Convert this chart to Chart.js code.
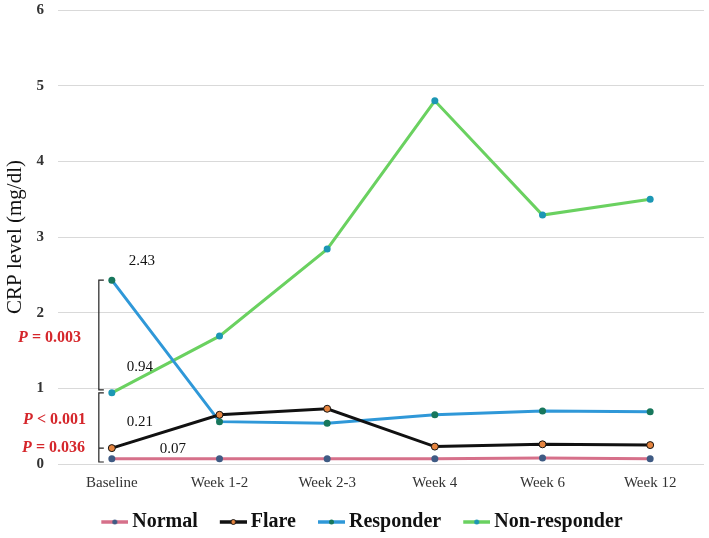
<!DOCTYPE html>
<html>
<head>
<meta charset="utf-8">
<script src="https://cdn.jsdelivr.net/npm/chart.js@4.4.0/dist/chart.umd.min.js"></script>
<style>
  html, body { margin: 0; padding: 0; background: #fff; }
  #wrap { width: 709px; height: 538px; }
</style>
</head>
<body>
<div id="wrap"><canvas id="myChart"></canvas></div>
<script>
const labels = ['Baseline', 'Week 1-2', 'Week 2-3', 'Week 4', 'Week 6', 'Week 12'];
const normal = [0.07, 0.07, 0.07, 0.07, 0.08, 0.07];
const flare = [0.21, 0.65, 0.73, 0.23, 0.26, 0.25];
const responder = [2.43, 0.56, 0.54, 0.65, 0.70, 0.69];
const nonResponder = [0.94, 1.69, 2.84, 4.80, 3.29, 3.50];
const yTicks = [0, 1, 2, 3, 4, 5, 6];
const pLabels = ['P = 0.003', 'P < 0.001', 'P = 0.036'];

const serif = '"Liberation Serif", "Times New Roman", serif';
const red = '#d5262b';

// line+dot image for the legend, transparent on the left so the text sits close to it
function legendIcon(lineColor, dotColor, dotBorder) {
    const c = document.createElement('canvas');
    c.width = 49; c.height = 10;
    const ctx = c.getContext('2d');
    ctx.strokeStyle = lineColor;
    ctx.lineWidth = 3.5;
    ctx.beginPath(); ctx.moveTo(22, 5); ctx.lineTo(49, 5); ctx.stroke();
    ctx.fillStyle = dotColor;
    ctx.beginPath(); ctx.arc(35.5, 5, 2.5, 0, Math.PI * 2); ctx.fill();
    if (dotBorder) { ctx.strokeStyle = dotBorder; ctx.lineWidth = 1; ctx.stroke(); }
    return c;
}

function series(label, data, line, dot, dotBorder) {
    return {
        label: label,
        data: data,
        borderColor: line,
        backgroundColor: dot,
        borderWidth: 3,
        pointRadius: 3.5,
        pointStyle: 'circle',
        pointBackgroundColor: dot,
        pointBorderColor: dotBorder || dot,
        pointBorderWidth: dotBorder ? 1 : 0,
        icon: legendIcon(line, dot, dotBorder),
        tension: 0
    };
}

const annotations = {
    id: 'annotations',
    afterLayout(chart) {
        // nudge the legend row down a little
        if (chart.legend) { chart.legend.top += 4; chart.legend.bottom += 4; }
    },
    afterDatasetsDraw(chart) {
        const ctx = chart.ctx;
        const x = chart.scales.x, y = chart.scales.y;
        const x0 = x.getPixelForValue(0);
        const bx = x0 - 13;
        ctx.save();
        // brackets
        ctx.strokeStyle = '#222';
        ctx.lineWidth = 1.2;
        const top1 = y.getPixelForValue(responder[0]);
        const bot1 = y.getPixelForValue(nonResponder[0]) - 3;
        ctx.beginPath();
        ctx.moveTo(bx + 5, top1); ctx.lineTo(bx, top1); ctx.lineTo(bx, bot1); ctx.lineTo(bx + 5, bot1);
        ctx.stroke();
        const top2 = y.getPixelForValue(nonResponder[0]);
        const mid2 = y.getPixelForValue(flare[0]);
        const bot2 = y.getPixelForValue(0) - 2;
        ctx.beginPath();
        ctx.moveTo(bx + 5, top2); ctx.lineTo(bx, top2); ctx.lineTo(bx, bot2); ctx.lineTo(bx + 5, bot2);
        ctx.moveTo(bx, mid2); ctx.lineTo(bx + 5, mid2);
        ctx.stroke();

        // value labels at baseline
        ctx.fillStyle = '#111';
        ctx.font = '15px ' + serif;
        ctx.textAlign = 'center';
        ctx.textBaseline = 'middle';
        ctx.fillText(responder[0].toFixed(2), x0 + 30, top1 - 19);
        ctx.fillText(nonResponder[0].toFixed(2), x0 + 28, y.getPixelForValue(nonResponder[0]) - 26);
        ctx.fillText(flare[0].toFixed(2), x0 + 28, mid2 - 26);
        ctx.fillText(normal[0].toFixed(2), x0 + 61, y.getPixelForValue(normal[0]) - 10);

        // P values, P in italic
        const pRows = [(top1 + bot1) / 2 + 3, y.getPixelForValue(0.58), mid2];
        const rights = [81, 86, 85];
        pLabels.forEach((t, i) => {
            const rest = t.slice(1);
            ctx.font = 'bold 16px ' + serif;
            const wRest = ctx.measureText(rest).width;
            ctx.fillStyle = red;
            ctx.textAlign = 'left';
            ctx.fillText(rest, rights[i] - wRest, pRows[i]);
            ctx.font = 'italic bold 16px ' + serif;
            const wP = ctx.measureText('P').width;
            ctx.fillText('P', rights[i] - wRest - wP, pRows[i]);
        });
        ctx.restore();
    }
};

const config = {
    type: 'line',
    data: {
        labels: labels,
        datasets: [
            series('Normal', normal, '#d6708a', '#3f5b84'),
            series('Flare', flare, '#111111', '#e5843f', '#111111'),
            series('Responder', responder, '#2f98d8', '#17775c'),
            series('Non-responder', nonResponder, '#6ad160', '#1c97b4')
        ]
    },
    options: {
        responsive: true,
        maintainAspectRatio: false,
        animation: false,
        layout: { padding: { top: 10, right: 1, bottom: 0, left: 0 } },
        plugins: {
            legend: {
                position: 'bottom',
                labels: {
                    usePointStyle: true,
                    pointStyleWidth: 37,
                    boxHeight: 10,
                    padding: 6,
                    color: '#111',
                    font: { family: serif, size: 20, weight: 'bold', lineHeight: 1.4 },
                    generateLabels: (chart) => {
                        const items = Chart.defaults.plugins.legend.labels.generateLabels(chart);
                        items.forEach(it => { it.pointStyle = chart.data.datasets[it.datasetIndex].icon; });
                        return items;
                    }
                }
            },
            tooltip: { enabled: false }
        },
        scales: {
            x: {
                offset: true,
                afterFit: (s) => { s.height = 38; },
                grid: { display: false },
                border: { display: false },
                ticks: { color: '#333', font: { family: serif, size: 15 }, padding: 2, maxRotation: 0 }
            },
            y: {
                min: 0,
                max: 6,
                afterBuildTicks: (s) => { s.ticks = yTicks.map(v => ({ value: v })); },
                afterFit: (s) => { s.width = 58; s.paddingTop = 0; },
                grid: { color: '#d9d9d9', lineWidth: 1, drawTicks: false },
                border: { display: false },
                ticks: { color: '#333', font: { family: serif, size: 15, weight: 'bold' }, padding: 14 },
                title: { display: true, text: 'CRP level (mg/dl)', color: '#111', font: { family: serif, size: 21 }, padding: { top: 3, bottom: 0 } }
            }
        }
    },
    plugins: [annotations]
};

let myChart = new Chart(document.getElementById('myChart'), config);
</script>
</body>
</html>
